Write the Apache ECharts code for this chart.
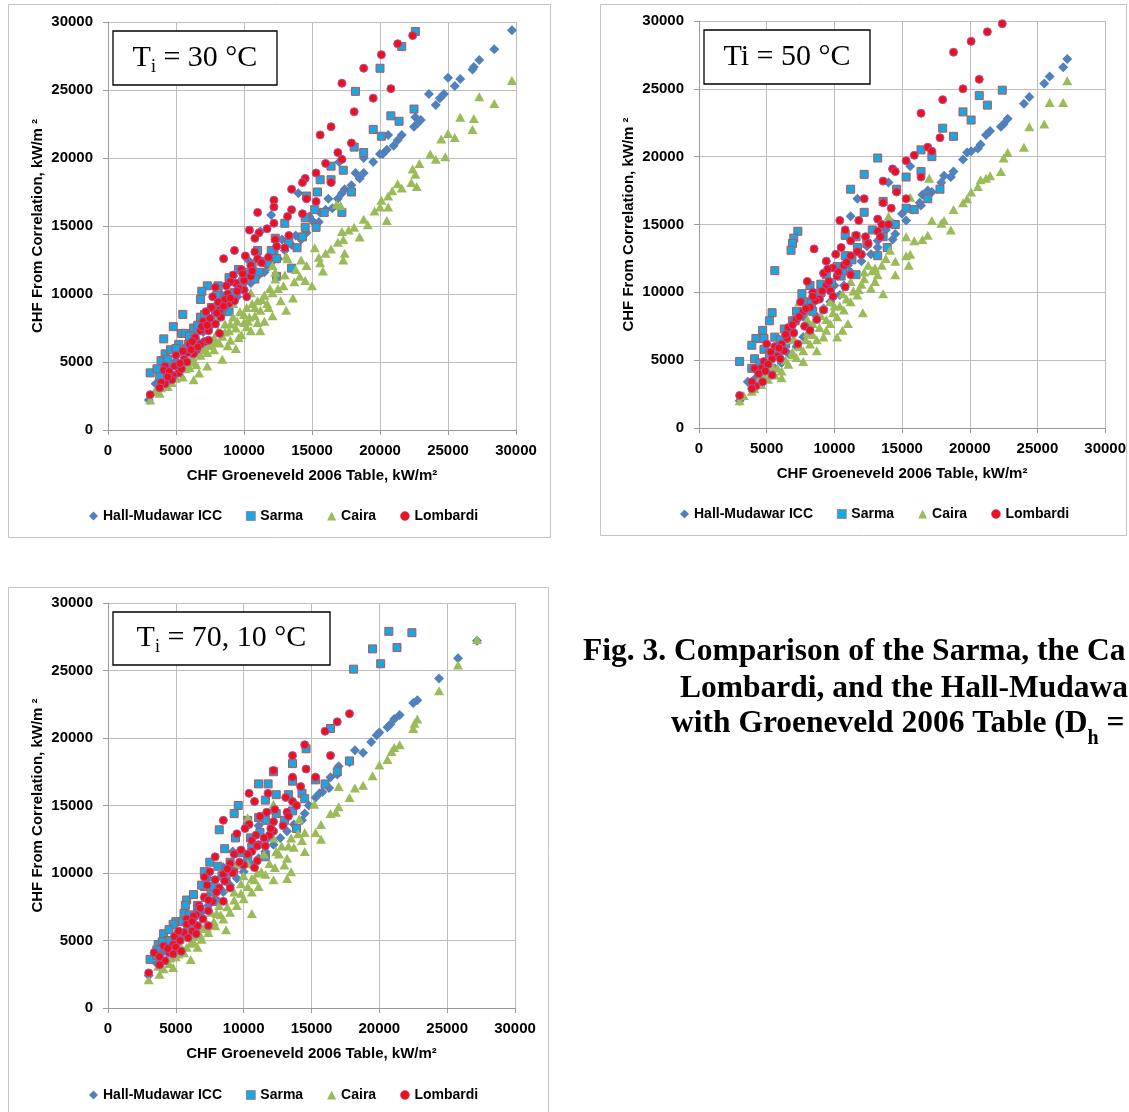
<!DOCTYPE html>
<html>
<head>
<meta charset="utf-8">
<title>CHF comparison</title>
<script src="https://cdn.jsdelivr.net/npm/echarts@6/dist/echarts.min.js"></script>
<style>
  html, body { margin: 0; padding: 0; background: #fff; }
  #chf { width: 1129px; height: 1112px; }
</style>
</head>
<body>
<div id="chf"></div>
<script>
// values in thousands of kW/m2: [CHF Groeneveld 2006 table, CHF from correlation]
const SERIES_NAMES = ['Hall-Mudawar ICC', 'Sarma', 'Caira', 'Lombardi'];
const TICK_LABELS = ['0', '5000', '10000', '15000', '20000', '25000', '30000'];
const PANEL_LABELS = ['Ti = 30 °C', 'Ti = 50 °C', 'Ti = 70, 10 °C'];

// ---- Ti = 30 C ----
const HM_30 = [[3.0,2.2],[3.5,3.4],[4.0,4.1],[4.5,4.6],[5.0,5.1],[5.5,5.6],[6.0,6.1],[6.5,6.6],[7.0,7.2],[7.5,7.6],[8.0,8.1],[8.5,8.7],[9.0,9.2],[9.5,9.8],[10.0,10.3],[10.5,10.8],[11.0,11.3],[11.5,11.6],[12.0,12.3],[12.5,12.6],[13.0,13.2],[13.5,13.6],[14.2,14.0],[14.6,14.5],[15.0,15.4],[15.2,15.2],[15.6,16.0],[16.2,17.0],[16.5,16.3],[16.9,17.0],[17.0,19.7],[17.2,17.4],[17.4,17.7],[17.9,18.0],[18.2,18.9],[18.5,18.5],[18.8,18.9],[18.8,20.0],[19.5,19.7],[20.0,20.3],[20.2,20.3],[20.5,20.6],[20.6,21.7],[21.0,20.9],[21.3,21.3],[21.6,21.7],[22.5,22.3],[22.6,23.0],[22.8,22.6],[23.0,22.8],[23.6,24.7],[24.1,23.9],[24.4,24.4],[24.7,24.7],[25.0,25.9],[25.5,25.3],[25.9,25.8],[26.8,26.5],[26.9,26.7],[27.3,27.2],[28.4,28.0],[29.7,29.4],[14.0,17.4],[12.0,15.8],[11.2,14.6],[8.3,10.0],[9.2,11.3],[10.3,12.5],[6.8,8.0],[7.8,9.0],[11.8,12.0],[12.8,14.0],[13.8,14.3],[15.5,15.3],[14.8,15.7],[16.0,16.2],[13.2,13.9],[12.2,12.9],[10.8,11.5],[9.8,10.5],[6.3,7.0],[5.3,6.2],[4.3,5.0]];
const SA_30 = [[20.0,26.6],[21.6,28.2],[22.6,29.3],[18.2,24.9],[22.5,23.6],[20.8,23.1],[21.4,22.7],[19.5,22.1],[20.1,21.6],[18.1,20.8],[18.8,20.4],[16.4,19.4],[17.3,19.1],[15.6,18.4],[16.4,18.4],[15.4,17.5],[17.9,17.5],[17.2,16.0],[15.9,16.0],[14.6,17.2],[15.2,16.2],[14.5,15.6],[15.3,14.9],[14.5,14.9],[14.3,14.2],[13.0,15.2],[13.5,11.9],[13.9,13.4],[13.3,13.8],[12.3,14.1],[12.2,12.9],[12.4,11.3],[11.1,11.6],[8.1,10.6],[7.3,10.6],[6.9,10.2],[6.8,9.6],[5.5,8.5],[4.8,7.6],[4.1,6.7],[3.9,5.1],[4.2,5.6],[3.1,4.2],[3.8,4.0],[5.4,7.1],[5.7,7.1],[5.2,6.3],[6.3,7.5],[6.8,8.3],[8.9,8.7],[8.0,9.9],[10.2,11.6],[10.8,11.1],[8.9,11.2],[9.6,11.8],[11.7,12.3],[12.4,12.6],[11.0,13.2],[7.6,9.0],[8.4,9.4],[9.3,10.1],[6.0,6.9],[6.6,7.7],[7.1,8.5],[4.6,5.9],[5.0,6.0],[10.6,12.2],[9.9,10.9],[5.9,6.3],[6.4,6.7],[7.0,7.6],[7.9,8.4],[8.5,9.1],[9.1,10.0],[9.7,10.4],[10.4,11.4],[11.3,12.4],[12.0,13.2],[4.4,5.2],[3.6,4.5]];
const CA_30 = [[29.7,25.7],[28.4,24.0],[27.3,24.5],[26.9,22.9],[26.8,22.1],[25.9,23.0],[25.5,21.5],[25.0,21.8],[24.5,21.4],[24.8,20.1],[24.1,19.9],[23.7,20.3],[22.9,19.6],[22.4,19.2],[22.6,18.8],[22.7,17.9],[22.3,18.2],[21.3,18.1],[21.6,17.8],[20.9,17.6],[20.6,17.2],[20.1,16.9],[20.6,16.4],[20.0,16.4],[20.5,15.4],[19.6,16.1],[19.1,15.1],[18.8,15.5],[18.5,14.2],[18.1,14.9],[17.7,14.7],[17.3,14.0],[17.2,14.6],[16.9,13.8],[17.4,13.0],[17.3,12.5],[17.1,16.5],[16.4,13.3],[16.0,13.0],[15.6,12.3],[15.8,11.7],[15.5,12.7],[15.2,13.4],[15.0,10.6],[14.6,12.1],[14.2,12.5],[14.1,11.3],[13.7,10.9],[13.2,12.6],[13.6,9.7],[13.1,8.8],[12.9,10.6],[12.7,9.5],[12.3,11.1],[12.3,11.6],[12.1,10.1],[12.1,8.4],[11.7,9.3],[11.5,9.9],[11.2,7.3],[11.2,8.8],[11.0,9.5],[10.6,9.3],[10.4,8.3],[10.2,9.0],[10.0,7.9],[9.7,8.7],[9.4,7.5],[9.2,8.3],[8.9,7.3],[8.6,7.8],[8.4,6.9],[8.1,7.3],[7.9,6.5],[7.6,6.3],[7.3,5.7],[7.1,6.3],[6.8,5.5],[6.3,5.0],[6.0,5.2],[6.3,3.7],[5.7,4.5],[5.2,4.2],[5.0,3.8],[4.7,3.5],[4.4,3.2],[3.9,3.1],[3.8,2.7],[3.4,2.8],[3.1,2.2],[8.4,5.2],[9.4,6.0],[10.5,7.3],[11.5,8.0],[7.3,4.7],[6.7,4.2],[9.2,9.3],[8.1,8.3],[10.5,10.1],[12.1,12.1],[13.1,12.8],[16.8,16.6],[9.0,6.6],[9.8,7.0],[10.8,8.4],[11.9,10.4],[7.8,5.9],[6.5,4.8],[5.5,3.9],[5.8,4.9],[6.2,5.4],[6.6,5.8],[7.0,5.9],[7.4,6.2],[7.8,6.8],[8.2,6.4],[8.6,7.2],[9.0,7.8],[9.5,8.0],[10.0,8.5],[10.3,8.0],[10.8,9.0],[11.3,9.6],[11.8,9.0],[12.5,10.4],[13.0,11.4],[13.8,11.8],[14.5,11.0],[6.0,4.6],[5.4,4.6],[4.9,4.0],[4.2,3.5],[3.6,3.0],[8.8,6.2],[9.6,6.8],[10.2,7.6],[11.0,7.9]];
const LO_30 = [[22.4,29.0],[21.3,28.4],[20.1,27.6],[18.8,26.6],[17.2,25.5],[20.8,25.1],[19.5,24.4],[18.1,23.4],[16.4,22.3],[15.6,21.7],[17.9,21.1],[16.9,20.4],[17.2,19.9],[16.0,19.6],[15.3,18.9],[14.5,18.5],[14.3,18.2],[16.4,18.2],[13.5,17.7],[15.3,16.8],[12.2,16.9],[12.2,16.4],[11.0,16.0],[14.6,17.0],[13.5,16.2],[14.3,15.9],[13.2,15.7],[12.2,15.2],[11.7,14.8],[10.4,14.7],[11.1,14.5],[10.8,14.1],[12.3,14.0],[9.3,13.2],[8.5,12.6],[13.0,13.4],[13.3,14.3],[12.4,13.5],[10.8,13.1],[10.1,12.8],[11.0,12.6],[11.8,12.7],[10.5,12.1],[9.8,11.8],[9.2,11.4],[10.5,11.3],[7.9,10.5],[8.8,10.0],[10.0,10.3],[7.7,9.8],[8.1,9.4],[7.6,9.0],[8.9,9.3],[8.2,8.8],[7.2,8.7],[7.0,8.0],[7.9,7.8],[7.4,7.3],[6.8,7.3],[6.4,6.8],[7.1,6.5],[6.0,6.3],[6.5,5.9],[6.3,5.6],[5.6,5.2],[5.8,5.0],[5.0,5.5],[4.9,4.7],[5.2,4.2],[4.8,4.0],[4.7,3.7],[4.2,4.7],[4.1,4.4],[4.2,3.4],[3.9,3.5],[3.8,3.1],[3.1,2.6],[5.4,4.5],[6.8,6.3],[7.4,6.6],[8.3,8.3],[9.3,9.5],[10.2,9.8],[9.4,10.8],[8.2,7.1],[9.6,10.4],[9.0,10.9],[8.6,9.6],[6.6,6.1],[5.9,5.7],[5.5,5.8],[6.2,6.5],[6.9,7.6],[7.5,8.2],[8.0,8.6],[8.5,9.1],[9.0,9.7],[9.5,10.2],[10.0,11.0],[10.6,11.7],[11.3,12.3],[8.7,10.6],[9.9,11.5],[7.3,7.7],[6.1,5.9],[5.3,4.9],[4.5,4.3],[4.4,3.9]];

// ---- Ti = 50 C ----
const HM_50 = [[27.2,27.2],[26.9,26.6],[25.9,25.9],[25.5,25.4],[24.4,24.4],[24.0,23.9],[22.8,22.8],[22.5,22.4],[22.3,22.2],[21.5,21.9],[21.2,21.6],[20.8,20.9],[20.6,20.6],[20.1,20.4],[19.8,20.3],[19.5,19.8],[18.8,18.9],[18.6,18.5],[18.1,18.6],[17.9,18.1],[17.2,17.4],[16.9,17.5],[16.5,17.2],[16.4,16.4],[15.8,16.1],[15.3,15.3],[15.6,19.3],[14.0,18.1],[14.3,15.1],[14.5,14.3],[14.3,13.9],[13.2,13.8],[12.7,12.8],[11.7,16.9],[11.2,15.6],[12.0,12.3],[11.2,11.5],[10.7,10.5],[10.4,9.8],[9.7,9.3],[9.2,8.8],[8.7,8.2],[8.2,7.5],[7.7,6.7],[7.2,6.0],[6.6,5.5],[6.1,4.8],[5.6,4.4],[5.1,4.2],[4.6,3.9],[4.1,3.6],[3.6,3.4],[3.0,2.0],[9.7,10.8],[8.4,9.3],[7.7,8.2],[13.2,13.3],[16.3,16.6],[15.0,15.8],[13.8,14.6],[12.4,13.4],[11.0,12.0],[10.0,10.5],[9.0,9.8],[6.9,7.2],[5.9,6.0]];
const SA_50 = [[22.4,24.9],[20.7,24.5],[21.3,23.8],[19.5,23.3],[20.1,22.7],[18.0,22.1],[18.8,21.5],[16.4,20.5],[17.2,20.0],[13.2,19.9],[16.4,18.9],[12.2,18.7],[15.3,18.5],[14.6,17.6],[11.2,17.6],[17.8,17.6],[16.9,16.9],[13.6,16.7],[15.3,16.2],[15.9,16.1],[12.2,15.9],[14.5,15.0],[10.8,14.2],[11.6,14.1],[13.6,14.1],[13.2,12.7],[13.9,13.3],[7.3,14.5],[7.0,14.0],[6.9,13.6],[6.8,13.1],[5.6,11.6],[5.4,8.5],[5.2,7.9],[4.7,7.2],[4.2,6.6],[3.9,6.1],[3.0,4.9],[4.1,5.1],[3.9,4.4],[4.8,5.8],[6.3,7.3],[5.6,6.7],[7.9,9.3],[7.2,8.6],[8.7,9.9],[9.4,11.3],[10.2,11.9],[10.8,12.7],[11.7,13.3],[12.4,13.6],[11.6,11.3],[8.2,10.5],[6.4,6.2],[5.8,5.5],[7.6,9.9],[9.0,10.6],[10.5,11.2],[6.9,7.9],[8.4,8.6],[6.0,6.5],[6.6,7.2],[7.1,7.9],[7.7,8.5],[8.3,9.2],[9.0,10.0],[9.8,10.7],[10.6,11.6],[11.3,12.4],[12.8,14.6],[4.5,4.8],[5.2,5.5],[4.8,6.6]];
const CA_50 = [[27.2,25.6],[26.9,24.0],[25.9,24.0],[25.5,22.4],[24.4,22.2],[24.0,20.7],[22.8,20.3],[22.5,19.9],[22.3,18.9],[21.5,18.6],[21.2,18.4],[20.8,18.3],[20.6,17.8],[20.1,17.4],[19.8,16.9],[19.5,16.6],[18.8,16.1],[18.6,14.6],[18.1,15.3],[17.9,15.1],[17.2,15.3],[17.0,18.4],[16.9,14.2],[16.5,13.9],[15.9,13.8],[15.6,12.8],[15.5,12.0],[15.3,12.7],[15.3,14.1],[15.6,17.0],[14.5,12.3],[14.5,11.3],[14.0,15.6],[14.1,13.1],[13.5,12.0],[13.6,9.9],[13.2,11.3],[13.0,10.8],[12.7,10.3],[12.2,11.0],[12.2,11.5],[12.5,12.0],[12.1,8.5],[11.7,9.8],[11.2,9.3],[10.7,8.7],[10.6,7.2],[10.2,8.2],[9.7,7.7],[9.4,7.2],[9.2,6.7],[8.7,6.5],[8.2,6.2],[7.7,5.7],[7.2,5.2],[6.6,4.7],[6.1,4.2],[6.1,3.7],[5.6,3.9],[5.1,3.6],[4.6,3.2],[4.1,2.9],[3.9,2.7],[3.0,2.0],[3.3,2.4],[9.7,9.3],[8.4,7.7],[11.2,10.8],[7.4,9.3],[6.6,6.5],[7.7,4.9],[8.7,5.7],[10.2,6.7],[11.0,7.7],[9.0,8.3],[10.0,9.0],[11.8,10.2],[12.8,11.6],[8.0,7.0],[6.9,5.6],[5.4,4.6],[4.4,3.5],[5.8,4.4],[6.4,5.0],[6.9,5.4],[7.4,6.0],[7.9,6.5],[8.4,6.9],[8.9,7.4],[9.4,8.0],[9.9,8.5],[10.4,9.0],[10.9,9.5],[11.4,10.1],[12.0,10.6],[13.0,11.8],[13.8,12.5],[4.8,3.8],[5.3,4.2],[4.3,3.3],[9.2,8.8],[10.6,9.9],[8.0,8.0],[7.0,6.6],[6.2,5.8]];
const LO_50 = [[22.4,29.8],[21.3,29.2],[20.1,28.5],[18.8,27.7],[20.7,25.7],[19.5,25.0],[18.0,24.2],[16.4,23.2],[17.8,21.4],[16.9,20.7],[17.2,20.4],[15.9,20.1],[15.3,19.7],[14.3,19.1],[14.5,18.9],[16.4,18.5],[13.6,18.2],[14.6,17.4],[12.2,16.9],[15.3,16.9],[13.6,16.6],[14.2,16.2],[11.8,15.3],[10.4,15.3],[13.2,15.4],[13.5,15.0],[14.0,15.0],[13.2,14.5],[10.8,14.6],[11.6,14.2],[12.3,14.1],[13.4,14.1],[8.5,13.2],[11.2,13.8],[10.5,13.3],[11.2,12.7],[9.4,12.3],[10.1,12.8],[12.0,12.8],[10.7,12.0],[9.9,11.8],[9.2,11.4],[10.2,11.2],[11.2,11.3],[8.0,10.8],[9.4,10.5],[10.8,10.4],[8.4,10.0],[9.7,10.1],[8.9,9.5],[7.5,9.3],[8.2,8.9],[7.7,8.6],[8.7,8.0],[7.2,8.0],[7.8,7.5],[6.6,7.4],[7.0,7.0],[6.5,6.6],[6.1,6.2],[5.0,6.2],[5.6,6.0],[6.3,5.7],[5.8,5.3],[5.4,5.1],[4.8,4.9],[5.1,4.7],[4.6,4.4],[4.1,4.4],[5.4,3.9],[4.7,3.4],[4.2,3.1],[3.9,3.4],[3.9,2.9],[3.0,2.4],[7.3,6.2],[8.2,7.2],[9.2,8.7],[9.9,9.7],[5.3,5.6],[5.9,5.9],[6.4,6.9],[6.9,7.6],[7.4,8.2],[7.9,8.8],[8.6,9.4],[9.1,10.1],[9.6,10.8],[10.3,11.5],[10.9,12.2],[11.7,13.0],[12.5,13.6],[4.4,4.0],[4.9,4.2],[6.0,5.1],[8.4,9.7],[9.5,11.7]];

// ---- Ti = 70, 10 C ----
const HM_70 = [[27.2,27.2],[25.8,25.9],[24.4,24.4],[22.8,22.8],[22.5,22.6],[21.5,21.7],[21.1,21.4],[20.8,21.0],[20.6,20.8],[20.0,20.4],[19.8,20.2],[19.4,19.7],[18.8,18.9],[18.2,19.1],[17.8,18.2],[17.0,17.9],[16.9,17.3],[16.4,17.1],[16.3,16.3],[15.8,16.0],[15.6,15.9],[15.3,15.6],[14.5,14.4],[14.3,13.9],[13.7,13.6],[13.2,13.1],[12.7,12.6],[12.2,14.6],[12.2,12.1],[11.6,11.6],[11.1,13.5],[11.1,11.1],[10.6,10.6],[10.0,10.1],[9.5,9.6],[9.2,11.6],[9.0,9.1],[8.5,8.6],[7.9,8.1],[7.4,7.6],[6.9,7.1],[6.3,6.6],[5.8,6.1],[5.3,5.5],[4.8,5.1],[4.2,4.6],[4.0,4.1],[3.6,3.3],[3.0,2.4],[8.5,10.4],[10.6,12.1],[7.4,9.6],[14.8,15.0],[13.0,13.8],[11.8,12.6],[10.3,11.2],[9.8,10.6],[6.6,7.6],[5.6,6.5]];
const SA_70 = [[20.7,27.9],[22.4,27.8],[19.5,26.6],[21.3,26.7],[20.1,25.5],[18.1,25.1],[16.4,20.7],[14.6,19.2],[13.6,18.1],[17.8,18.3],[12.2,17.5],[13.6,16.8],[11.1,16.6],[11.8,16.6],[16.9,17.5],[15.3,16.9],[16.0,16.6],[14.3,15.9],[12.4,15.8],[9.6,15.0],[11.6,15.4],[13.3,15.8],[14.5,15.5],[9.3,14.4],[13.6,14.6],[11.6,13.9],[8.2,13.2],[10.3,13.9],[11.1,14.1],[13.0,13.9],[13.9,13.3],[9.4,12.6],[8.6,11.8],[11.6,11.2],[7.5,10.8],[8.1,10.5],[7.1,10.1],[7.1,9.0],[5.8,8.0],[6.9,9.1],[5.7,7.6],[6.3,8.4],[5.0,6.4],[4.8,6.2],[5.6,7.0],[4.1,5.5],[3.7,4.7],[3.1,3.6],[3.6,4.3],[5.3,5.1],[6.3,5.8],[7.9,7.9],[8.7,9.6],[10.3,10.9],[10.6,11.9],[9.0,10.4],[7.6,8.6],[6.6,7.3],[4.4,5.0],[5.5,6.4],[6.0,6.9],[6.6,7.6],[7.2,8.2],[7.8,9.0],[8.4,9.8],[9.0,10.8],[9.8,11.5],[10.5,12.6],[11.2,13.0],[12.4,14.4],[4.5,5.8],[4.0,4.9],[3.6,3.9]];
const CA_70 = [[27.2,27.3],[25.8,25.4],[24.4,23.5],[22.8,21.4],[22.5,20.7],[22.6,21.1],[21.5,19.5],[21.1,19.3],[20.9,19.0],[20.6,18.4],[20.0,18.0],[19.5,17.2],[18.8,16.5],[18.2,16.3],[17.8,15.6],[17.0,16.4],[17.0,14.9],[16.8,14.5],[16.4,14.4],[15.7,13.6],[15.3,13.0],[15.2,15.1],[15.7,12.5],[14.5,13.0],[14.5,11.6],[14.3,12.4],[14.1,14.0],[13.7,11.9],[13.5,12.6],[13.5,10.1],[13.2,11.1],[13.0,10.6],[12.2,15.1],[12.4,11.6],[12.3,10.4],[12.2,9.5],[11.6,9.9],[11.5,11.4],[11.1,9.0],[10.6,8.6],[10.3,10.7],[10.6,7.0],[10.0,8.1],[9.5,7.6],[9.0,7.1],[8.7,5.8],[8.5,6.6],[7.9,6.1],[7.4,5.6],[6.9,5.1],[6.6,4.5],[6.1,3.6],[6.1,4.8],[5.6,4.1],[5.0,3.8],[4.8,3.0],[4.5,3.3],[3.8,2.5],[3.7,3.1],[3.0,2.1],[10.6,9.6],[9.3,8.6],[8.2,7.6],[7.1,6.6],[6.3,5.3],[12.2,12.6],[9.5,10.6],[10.3,14.1],[13.2,9.6],[11.0,10.0],[12.8,12.0],[9.8,9.2],[8.0,7.0],[7.0,5.9],[5.4,4.5],[4.3,3.6],[5.8,4.5],[6.3,4.9],[6.8,5.4],[7.3,5.9],[7.8,6.4],[8.3,6.9],[8.8,7.5],[9.3,8.0],[9.8,8.5],[10.3,9.0],[10.8,9.5],[11.3,10.1],[11.9,10.7],[12.6,11.4],[13.3,12.0],[14.0,12.9],[4.6,3.7],[5.2,4.0],[4.1,2.9],[9.0,8.9],[10.0,9.8],[7.6,7.1],[6.6,6.0]];
const LO_70 = [[17.8,21.8],[16.9,21.2],[16.0,20.5],[14.5,19.5],[16.4,18.7],[13.6,18.7],[14.6,17.7],[12.2,17.6],[15.3,17.1],[13.6,17.1],[14.2,16.4],[10.4,15.9],[11.8,15.9],[13.1,15.6],[10.8,15.3],[13.6,15.3],[13.9,15.0],[11.7,14.5],[13.2,14.5],[12.3,14.7],[11.2,14.2],[13.3,14.2],[8.5,13.9],[10.4,13.6],[12.2,13.8],[12.9,13.5],[12.2,13.1],[9.5,12.9],[10.1,13.3],[10.9,12.8],[11.9,12.8],[11.5,12.6],[10.6,12.4],[11.1,12.1],[11.6,12.0],[9.8,11.7],[10.6,11.6],[11.0,10.9],[9.3,11.4],[9.0,10.7],[10.0,10.6],[10.8,10.4],[7.9,11.2],[9.3,10.1],[8.5,9.9],[7.5,10.1],[7.1,9.7],[7.9,9.5],[8.7,9.4],[7.3,9.1],[8.2,8.9],[7.1,8.2],[9.0,8.9],[7.7,7.9],[6.7,7.6],[7.4,7.2],[6.5,6.9],[7.0,6.6],[5.8,6.6],[6.6,6.1],[6.2,5.7],[5.6,5.6],[5.9,5.2],[6.5,5.5],[4.9,5.3],[5.3,5.0],[4.8,4.7],[5.0,4.5],[5.4,4.2],[4.5,4.1],[4.8,4.0],[4.1,4.6],[3.4,4.1],[4.2,3.5],[3.8,3.2],[3.0,2.6],[7.4,6.1],[8.5,7.9],[5.2,5.7],[5.8,6.2],[6.3,6.8],[6.8,7.4],[7.4,8.0],[8.0,8.6],[8.6,9.4],[9.2,10.0],[9.7,10.8],[10.3,11.4],[11.0,12.0],[12.0,13.3],[4.4,4.4],[3.8,3.8],[6.2,6.4],[8.8,10.3]];

const PANELS = [
  { grid: { left: 108, top: 22, width: 408, height: 408 }, data: [HM_30, SA_30, CA_30, LO_30] },
  { grid: { left: 699, top: 21, width: 407, height: 407 }, data: [HM_50, SA_50, CA_50, LO_50] },
  { grid: { left: 108, top: 603, width: 407, height: 405 }, data: [HM_70, SA_70, CA_70, LO_70] }
];

const SYMBOLS = [
  { symbol: 'diamond', symbolSize: [10, 10], itemStyle: { color: '#4F81BD', opacity: 1 } },
  { symbol: 'rect', symbolSize: 8, itemStyle: { color: '#14A9E3', borderColor: '#C0504D', borderWidth: 1, opacity: 1 } },
  { symbol: 'triangle', symbolSize: [10, 9], itemStyle: { color: '#9BBB59', opacity: 1 } },
  { symbol: 'circle', symbolSize: 8, itemStyle: { color: '#F20F1C', borderColor: '#9C5BA8', borderWidth: 1, opacity: 1 } }
];
const LEGEND_ICONS = ['diamond', 'rect', 'triangle', 'circle'];

const FONT = 'Liberation Sans';
const SERIF = 'Liberation Serif';

var chartDom = document.getElementById('chf');
var myChart = echarts.init(chartDom, null, { renderer: 'canvas' });

var grids = [], xAxes = [], yAxes = [], series = [], legends = [];

function axisCommon() {
  return {
    min: 0,
    max: 30,
    interval: 5,
    axisLine: { show: true, onZero: false, lineStyle: { color: '#9A9A9A', width: 1 } },
    axisTick: { show: true, inside: false, length: 5, lineStyle: { color: '#9A9A9A' } },
    splitLine: { show: true, lineStyle: { color: '#BDBDBD', width: 1 } },
    axisLabel: {
      color: '#000',
      fontFamily: FONT,
      fontWeight: 'bold',
      fontSize: 15,
      formatter: function (v) { return TICK_LABELS[Math.round(v / 5)]; }
    },
    nameTextStyle: { color: '#000', fontFamily: FONT, fontWeight: 'bold', fontSize: 15 }
  };
}

PANELS.forEach(function (p, i) {
  grids.push(Object.assign({ containLabel: false }, p.grid));
  var xa = axisCommon();
  xa.type = 'value';
  xa.gridIndex = i;
  xa.name = 'CHF Groeneveld 2006 Table, kW/m²';
  xa.nameLocation = 'middle';
  xa.nameGap = 38;
  xa.axisLabel.margin = 13;
  xAxes.push(xa);
  var ya = axisCommon();
  ya.type = 'value';
  ya.gridIndex = i;
  ya.name = 'CHF From Correlation, kW/m ²';
  ya.nameLocation = 'middle';
  ya.nameGap = 63;
  ya.axisLabel.margin = 15;
  yAxes.push(ya);
  p.data.forEach(function (d, k) {
    series.push(Object.assign({
      name: SERIES_NAMES[k],
      type: 'scatter',
      xAxisIndex: i,
      yAxisIndex: i,
      data: d,
      silent: true
    }, SYMBOLS[k]));
  });
});

var legendPos = [{ left: 84, top: 504 }, { left: 675, top: 502 }, { left: 84, top: 1083 }];
legendPos.forEach(function (pos) {
  legends.push(Object.assign({
    orient: 'horizontal',
    itemWidth: 9,
    itemHeight: 9,
    itemGap: 24,
    selectedMode: false,
    textStyle: { color: '#000', fontFamily: FONT, fontWeight: 'bold', fontSize: 14 },
    data: SERIES_NAMES.map(function (n, k) {
      return { name: n, icon: LEGEND_ICONS[k], itemStyle: { borderWidth: k === 1 || k === 3 ? 0.6 : 0 } };
    })
  }, pos));
});

function labelBox(x, y, w, h, txt, sub) {
  var rich = {
    t: { fontFamily: SERIF, fontSize: 30, lineHeight: 36, color: '#000' },
    s: { fontFamily: SERIF, fontSize: 18, lineHeight: 22, verticalAlign: 'bottom', color: '#000' }
  };
  // "Ti" is written with a subscript i where the original uses one
  var text = sub ? '{t|T}{s|i}{t|' + txt.slice(2) + '}' : '{t|' + txt + '}';
  return [
    { type: 'rect', z: 50, shape: { x: x, y: y, width: w, height: h },
      style: { fill: '#fff', stroke: '#000', lineWidth: 1.3 } },
    { type: 'text', z: 51, x: x + w / 2, y: y + h / 2,
      style: { text: text, rich: rich, align: 'center', verticalAlign: 'middle' } }
  ];
}

var captionRich = {
  c: { fontFamily: SERIF, fontWeight: 'bold', fontSize: 31.5, lineHeight: 36, color: '#000' },
  // taller line so the bottom-aligned subscript drops below the baseline
  d: { fontFamily: SERIF, fontWeight: 'bold', fontSize: 31.5, lineHeight: 50, color: '#000' },
  h: { fontFamily: SERIF, fontWeight: 'bold', fontSize: 20, lineHeight: 20, verticalAlign: 'bottom', color: '#000' }
};

var graphics = [
  { type: 'rect', z: 0, shape: { x: 8.5, y: 4.5, width: 542, height: 533 }, style: { fill: 'none', stroke: '#C4C4C4', lineWidth: 1 } },
  { type: 'rect', z: 0, shape: { x: 600.5, y: 4.5, width: 526, height: 531 }, style: { fill: 'none', stroke: '#C4C4C4', lineWidth: 1 } },
  { type: 'rect', z: 0, shape: { x: 8.5, y: 587.5, width: 540, height: 540 }, style: { fill: 'none', stroke: '#C4C4C4', lineWidth: 1 } }
]
  .concat(labelBox(113, 31, 164, 54, PANEL_LABELS[0], true))
  .concat(labelBox(704, 30, 166, 54, PANEL_LABELS[1], false))
  .concat(labelBox(113, 612, 217, 53, PANEL_LABELS[2], true))
  .concat([
    { type: 'text', x: 583, y: 652, style: { text: '{c|Fig. 3. Comparison of the Sarma, the Ca}', rich: captionRich, align: 'left', verticalAlign: 'middle' } },
    { type: 'text', x: 680, y: 689, style: { text: '{c|Lombardi, and the Hall-Mudawa}', rich: captionRich, align: 'left', verticalAlign: 'middle' } },
    { type: 'text', x: 671, y: 724, style: { text: '{d|with Groeneveld 2006 Table (D}{h|h}{d| =}', rich: captionRich, align: 'left', verticalAlign: 'middle' } }
  ]);

var option = {
  animation: false,
  backgroundColor: '#fff',
  grid: grids,
  xAxis: xAxes,
  yAxis: yAxes,
  legend: legends,
  series: series,
  graphic: { elements: graphics }
};
option && myChart.setOption(option, true);
</script>
</body>
</html>
